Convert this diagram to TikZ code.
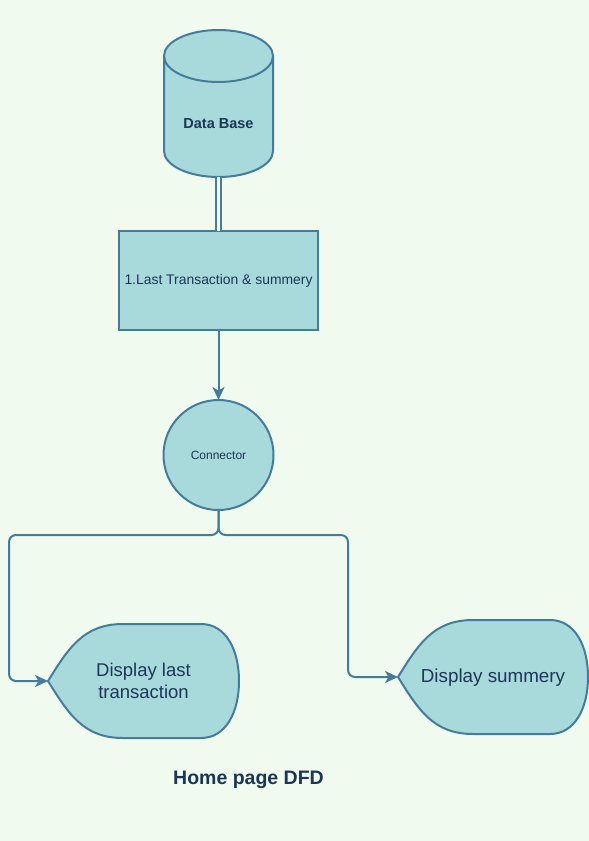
\documentclass[tikz,border=0pt]{standalone}
\usepackage{fontspec}
\setmainfont{Liberation Sans}
\usetikzlibrary{arrows.meta}
\definecolor{bg}{HTML}{F1FAEE}
\definecolor{fillc}{HTML}{A8DADC}
\definecolor{linec}{HTML}{457B9D}
\definecolor{txt}{HTML}{1D3557}
\newcommand\dispshape[1]{%
  \path[shapebox] (#1.west) .. controls +(20,-32) and +(-40,0) .. ([xshift=75pt]#1.north west)
    -- ([xshift=-38pt]#1.north east) .. controls +(25,0) and +(0,-31) .. (#1.east)
    .. controls +(0,31) and +(25,0) .. ([xshift=-38pt]#1.south east)
    -- ([xshift=75pt]#1.south west) .. controls +(-40,0) and +(20,32) .. (#1.west) -- cycle;}
\begin{document}
\begin{tikzpicture}[x=1pt,y=-1pt,
  shapebox/.style={draw=linec, fill=fillc, line width=2pt, text=txt},
  flow/.style={draw=linec, line width=2pt, -{Stealth[length=13pt,width=12pt,inset=3.5pt,sharp]}},
  anchorbox/.style={inner sep=0pt, outer sep=0pt},
  lbl/.style={text=txt, align=center}
]
\fill[bg] (0,0) rectangle (589,841);
\useasboundingbox (0,0) rectangle (589,841);
% database cylinder
\path[shapebox] (164,56) -- (164,151) arc[start angle=180, end angle=0, x radius=54.5, y radius=26]
  -- (273,56) arc[start angle=0, end angle=-180, x radius=54.5, y radius=26] -- cycle;
\draw[linec, line width=2pt] (164,56) arc[start angle=180, end angle=0, x radius=54.5, y radius=26];
\node[anchorbox, minimum width=109pt, minimum height=147pt] (db) at (218.5,103.5) {};
\node[lbl, font=\bfseries\fontsize{14.5}{17}\selectfont] (dbl) at (218.5,124) {Data Base};
% process
\node[shapebox, anchorbox, minimum width=199pt, minimum height=99pt, font=\fontsize{13.9}{16}\selectfont] (p1) at (218.5,280.5) {1.Last Transaction \& summery};
\draw[linec, line width=2pt, double=bg, double distance=3.5pt] (db.south) -- (p1.north);
% connector
\node[shapebox, circle, anchorbox, minimum size=110pt, font=\fontsize{12}{14}\selectfont] (cn) at (218.5,455) {Connector};
\draw[flow] (p1.south) -- (cn.north);
% displays
\node[anchorbox, minimum width=191pt, minimum height=114pt] (d1) at (143.5,681) {};
\dispshape{d1}
\node[lbl, font=\fontsize{18.5}{22}\selectfont] (d1t) at (143.5,681) {Display last\\transaction};
\node[anchorbox, minimum width=190pt, minimum height=114pt] (d2) at (493,677) {};
\dispshape{d2}
\node[lbl, font=\fontsize{18.8}{22}\selectfont] (d2t) at (493,678) {Display summery};
% branches
\draw[flow, rounded corners=7pt] (cn.south) -- ++(0,25) -- (9,535) |- (d1.west);
\draw[flow, rounded corners=7pt] (cn.south) -- ++(0,25) -- (348,535) |- (d2.west);
% title
\node[lbl, font=\bfseries\fontsize{19.5}{23}\selectfont] (title) at (248.5,780) {Home page DFD};
\end{tikzpicture}
\end{document}
